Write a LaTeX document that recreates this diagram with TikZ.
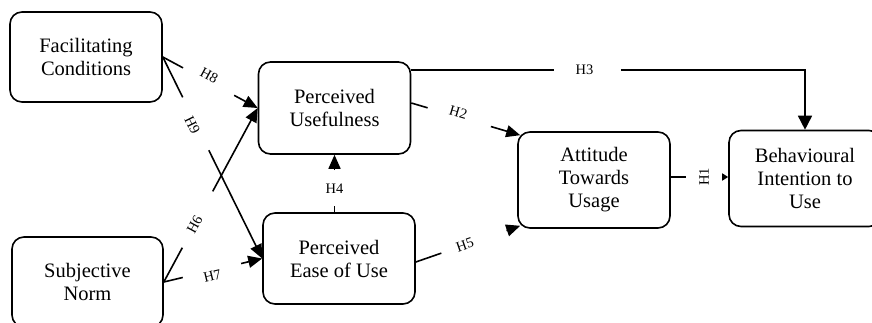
\documentclass[tikz,border=0pt]{standalone}
\usepackage{fontspec}
\setmainfont{Liberation Serif}
\usetikzlibrary{arrows.meta}

\begin{document}
\begin{tikzpicture}[x=1pt, y=-1pt, line width=1.6pt,
  box/.style={draw, rounded corners=12pt, minimum width=152pt, minimum height=92pt,
    inner sep=0pt, align=center, font=\fontsize{20.5}{23}\selectfont},
  lbl/.style={inner sep=0pt, font=\fontsize{14.5}{16}\selectfont},
  holed/.style 2 args={dash pattern=on #1 off #2 on 500pt},
  conn/.style={-{Triangle[length=14pt,width=12pt]}}]
  % Frame (boxes at the right and bottom edge are cut off)
  \useasboundingbox (0,0) rectangle (872,323);
  \clip (0,0) rectangle (872,323);

  % Constructs
  \node[box, minimum height=90pt] (fc) at (86,57) {Facilitating\\Conditions};
  \node[box, minimum height=90pt, minimum width=151pt] (sn) at (87.5,282) {Subjective\\Norm};
  \node[box] (pu) at (334.5,108) {Perceived\\Usefulness};
  \node[box, minimum height=91pt] (peou) at (339,258.5) {Perceived\\Ease of Use};
  \node[box, minimum height=96pt] (atu) at (594,180) {Attitude\\Towards\\Usage};
  \node[box, minimum height=96pt] (biu) at (805,178.5) {Behavioural\\Intention to\\Use};

  % External variables (line broken where the label sits)
  \draw[conn, holed={23pt}{58pt}] (fc.east) -- node[lbl, sloped, above=0pt, pos=0.46] {H8} (pu.west);
  \draw[conn, holed={45pt}{59pt}] (fc.east) -- node[lbl, sloped, below=-2pt, pos=0.33] {H9} (peou.west);
  \draw[conn, holed={39pt}{64pt}] (sn.east) -- node[lbl, sloped, pos=0.33] {H6} (pu.west);
  \draw[conn, holed={19.5pt}{60pt}] (sn.east) -- node[lbl, sloped, below=0pt, pos=0.48] {H7} (peou.west);

  % PEOU -> PU
  \draw[conn, holed={6pt}{36pt}] (peou.north -| pu.south) -- node[lbl, pos=0.41] {H4} (pu.south);

  % Towards attitude
  \draw[conn, holed={17pt}{66pt}] ([yshift=5pt]pu.east) -- node[lbl, sloped, above=-1pt, pos=0.42] {H2}
    ([shift={(3,4)}]atu.north west);
  \draw[conn, holed={27pt}{69pt}] ([yshift=-3.5pt]peou.east) -- node[lbl, sloped, pos=0.47] {H5}
    ([shift={(3,-3)}]atu.south west);

  % Towards intention
  \coordinate (h3) at ([yshift=-9pt]pu.north east);
  \draw[-{Triangle[length=14pt,width=14pt]}, holed={142.5pt}{67pt}] (h3)
    -- node[lbl, pos=0.44] {H3} (h3 -| biu.north) -- (biu.north);
  \coordinate (h1) at ([yshift=3pt]atu.east);
  \draw[-{Triangle[length=6pt,width=7pt]}, holed={15pt}{38pt}] (h1)
    -- node[lbl, rotate=90, pos=0.58] {H1} (h1 -| biu.west);
\end{tikzpicture}
\end{document}
